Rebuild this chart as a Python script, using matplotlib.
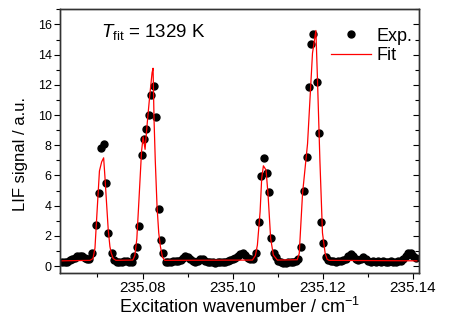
import matplotlib
matplotlib.use("Agg")
import matplotlib.pyplot as plt
from matplotlib.ticker import MultipleLocator

plt.rcParams['font.family'] = ['Liberation Sans', 'DejaVu Sans']
plt.rcParams['mathtext.fontset'] = 'custom'
plt.rcParams['mathtext.rm'] = 'Liberation Sans'
plt.rcParams['mathtext.it'] = 'Liberation Sans:italic'

# Experimental data (wavenumber / cm^-1, LIF signal / a.u.)
exp_x = [
    235.06217, 235.06272, 235.06327, 235.06382, 235.06438, 235.06493, 235.06548,
    235.06603, 235.06659, 235.06714, 235.06769, 235.06824, 235.06891,
    235.06968, 235.07028, 235.07085, 235.07145, 235.07196, 235.07240, 235.07315,
    235.07370, 235.07425, 235.07481, 235.07536, 235.07591, 235.07646, 235.07702,
    235.07757, 235.07812,
    235.07867, 235.07925, 235.07978, 235.08029, 235.08080, 235.08139, 235.08194,
    235.08250, 235.08309, 235.08367, 235.08411, 235.08455,
    235.08511, 235.08566, 235.08621, 235.08677, 235.08732, 235.08787, 235.08843,
    235.08898, 235.08953, 235.09008, 235.09064, 235.09119, 235.09174, 235.09229,
    235.09285, 235.09340, 235.09395, 235.09450, 235.09506, 235.09561, 235.09616,
    235.09671, 235.09727, 235.09782, 235.09837, 235.09892, 235.09948, 235.10003,
    235.10058, 235.10114, 235.10169, 235.10224, 235.10279, 235.10335, 235.10390,
    235.10445,
    235.10511, 235.10577, 235.10632, 235.10696, 235.10754, 235.10807, 235.10858,
    235.10917, 235.10953,
    235.11008, 235.11063, 235.11118, 235.11174, 235.11229, 235.11284, 235.11340,
    235.11395, 235.11450,
    235.11514, 235.11571, 235.11638, 235.11697, 235.11742, 235.11792, 235.11859,
    235.11912, 235.11969, 235.12013, 235.12066,
    235.12122, 235.12177, 235.12232, 235.12287, 235.12343, 235.12398, 235.12453,
    235.12509, 235.12564, 235.12619, 235.12674, 235.12730, 235.12785, 235.12840,
    235.12895, 235.12951, 235.13006, 235.13061, 235.13117, 235.13172, 235.13227,
    235.13282, 235.13338, 235.13393, 235.13448, 235.13503, 235.13559, 235.13614,
    235.13669, 235.13725, 235.13780, 235.13835, 235.13890, 235.13946, 235.14001,
    235.14056,
]
exp_y = [
    0.30, 0.25, 0.30, 0.40, 0.45, 0.55, 0.65, 0.70, 0.65, 0.55, 0.50, 0.50, 0.88,
    2.70, 4.85, 7.80, 8.10, 5.50, 2.20, 0.90,
    0.40, 0.30, 0.25, 0.30, 0.35, 0.35, 0.30, 0.30, 0.65,
    1.28, 2.67, 7.35, 8.40, 9.10, 10.00, 11.30, 11.95, 9.90, 3.80, 1.70, 0.84,
    0.25, 0.25, 0.30, 0.35, 0.35, 0.35, 0.40, 0.55, 0.65, 0.60, 0.45, 0.35,
    0.30, 0.35, 0.50, 0.50, 0.35, 0.25, 0.25, 0.25, 0.20, 0.25, 0.25, 0.30,
    0.30, 0.35, 0.40, 0.50, 0.55, 0.65, 0.80, 0.85, 0.75, 0.55, 0.45, 0.50,
    0.84, 2.89, 5.98, 7.13, 6.14, 4.88, 1.83, 0.90, 0.60,
    0.35, 0.25, 0.20, 0.20, 0.25, 0.30, 0.30, 0.35, 0.50,
    1.28, 4.95, 7.20, 11.87, 14.70, 15.35, 12.20, 8.83, 2.91, 1.50, 0.62,
    0.40, 0.35, 0.35, 0.30, 0.35, 0.35, 0.40, 0.50, 0.70, 0.80, 0.65, 0.45,
    0.40, 0.50, 0.60, 0.50, 0.35, 0.30, 0.35, 0.30, 0.35, 0.30, 0.35, 0.30,
    0.30, 0.35, 0.30, 0.30, 0.35, 0.35, 0.50, 0.70, 0.90, 0.85, 0.70, 0.55,
]

# Fitted spectrum
fit_x = [
    235.06217, 235.06835, 235.06902, 235.06946, 235.06990, 235.07045, 235.07094,
    235.07138, 235.07167, 235.07200, 235.07240, 235.07277, 235.07306, 235.07350,
    235.07410, 235.07786, 235.07830, 235.07874, 235.07918, 235.07978, 235.08013,
    235.08057, 235.08106, 235.08161, 235.08212, 235.08234, 235.08256, 235.08283,
    235.08323, 235.08360, 235.08398, 235.08442, 235.08493, 235.10438, 235.10504,
    235.10548, 235.10608, 235.10643, 235.10681, 235.10740, 235.10785, 235.10842,
    235.10902, 235.10990, 235.11432, 235.11476, 235.11549, 235.11660, 235.11770,
    235.11845, 235.11881, 235.11934, 235.11991, 235.12051, 235.12095, 235.12139,
    235.14084,
]
fit_y = [
    0.35, 0.38, 0.50, 1.20, 3.50, 6.30, 6.90,
    7.17, 5.90, 4.30, 2.40, 1.30, 0.86, 0.50,
    0.38, 0.40, 0.70, 1.80, 4.20, 7.57, 8.56,
    7.73, 9.50, 11.30, 12.80, 13.10, 9.70, 7.00,
    3.90, 2.20, 1.28, 0.60, 0.38, 0.40, 0.70,
    1.40, 3.60, 5.80, 6.64, 6.36, 4.70, 1.83,
    0.73, 0.40, 0.42, 0.84, 4.80, 8.10, 14.10,
    15.60, 12.30, 7.00, 2.20, 0.84, 0.45, 0.38,
    0.35,
]

x_ticks = [235.08, 235.10, 235.12, 235.14]
x_ticklabels = ['235.08', '235.10', '235.12', '235.14']
y_ticks = [0, 2, 4, 6, 8, 10, 12, 14, 16]

fig = plt.figure(figsize=(4.49, 3.22), dpi=100)
ax = fig.add_axes([0.1336, 0.152, 0.7994, 0.819])

ax.plot(exp_x, exp_y, 'o', color='black', ms=5, label='Exp.', zorder=2)
ax.plot(fit_x, fit_y, '-', color='red', lw=0.9, label='Fit', zorder=3)

ax.set_xlim(235.0617, 235.1413)
ax.set_ylim(-0.46, 17.0)
ax.set_xticks(x_ticks)
ax.set_xticklabels(x_ticklabels)
ax.xaxis.set_minor_locator(MultipleLocator(0.01))
ax.set_yticks(y_ticks)
ax.yaxis.set_minor_locator(MultipleLocator(1))

ax.tick_params(axis='x', which='both', direction='out', top=False, labelsize=11, pad=2)
ax.tick_params(axis='x', which='major', length=4, width=0.8)
ax.tick_params(axis='x', which='minor', length=3, width=0.8)
ax.tick_params(axis='y', which='both', direction='out', left=True, right=False, labelsize=9, pad=2)
ax.tick_params(axis='y', which='major', length=4, width=0.8)
ax.tick_params(axis='y', which='minor', length=3, width=0.8)

# mirrored right axis with inward ticks
axr = ax.twinx()
axr.set_ylim(ax.get_ylim())
axr.set_yticks(y_ticks)
axr.yaxis.set_minor_locator(MultipleLocator(1))
axr.tick_params(axis='y', which='both', direction='in', labelright=False)
axr.tick_params(axis='y', which='major', length=4, width=0.8)
axr.tick_params(axis='y', which='minor', length=3, width=0.8)

for a in (ax, axr):
    for s in a.spines.values():
        s.set_linewidth(1.0)
        s.set_color('#333333')

ax.set_xlabel('Excitation wavenumber / cm$^{-1}$', fontsize=13, labelpad=1)
ax.set_ylabel('LIF signal / a.u.', fontsize=12)
ax.yaxis.set_label_coords(-0.09, 0.45)

ax.text(0.115, 0.915, r'$T_{\mathrm{fit}}$ = 1329 K', transform=ax.transAxes,
        fontsize=13.5, ha='left', va='center')

leg = ax.legend(loc='upper left', bbox_to_anchor=(0.75, 0.937), frameon=False,
                fontsize=13, handlelength=2.2, handletextpad=0.3,
                labelspacing=0.15, borderpad=0.1, borderaxespad=0)

fig.savefig('out.png', dpi=100)
